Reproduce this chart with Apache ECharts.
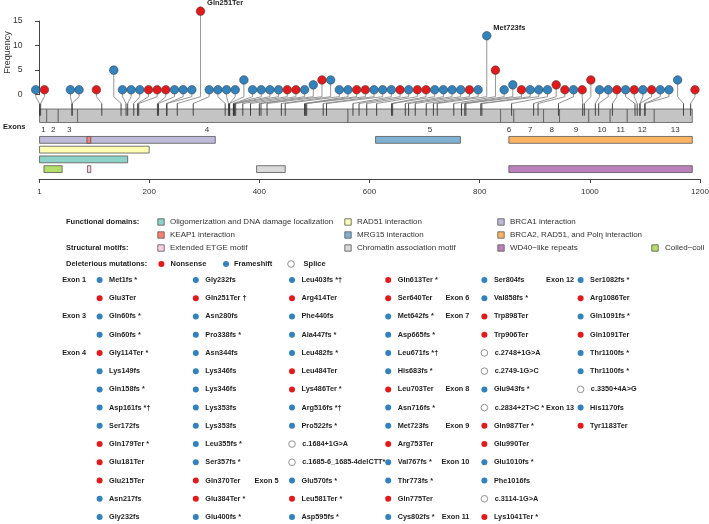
<!DOCTYPE html>
<html>
<head>
<meta charset="utf-8">
<script src="https://cdn.jsdelivr.net/npm/echarts@6.0.0/dist/echarts.min.js"></script>
<style>html,body{margin:0;padding:0;background:#ffffff;}#chart{width:709px;height:524px;}</style>
</head>
<body>
<div id="chart"></div>
<script>
// ================= DATA =================
const proteinTicks = [1, 200, 400, 600, 800, 1000, 1200];
const frequencyTicks = [0, 5, 10, 15];

const exonLabels   = ['1','2','3','4','5','6','7','8','9','10','11','12','13'];
const exonStart    = [1, 14, 35, 70, 561, 838, 862, 916, 945, 998, 1037, 1068, 1117];
const exonEnd      = [14, 35, 70, 561, 838, 862, 916, 945, 998, 1037, 1068, 1117, 1186];
const exonLabelPos = [8, 26, 55, 305, 710, 853, 892, 931, 975, 1022, 1056, 1095, 1155];

const domainNames = ['Oligomerization and DNA damage localization', 'RAD51 interaction', 'BRCA1 interaction',
  'KEAP1 interaction', 'MRG15 interaction', 'BRCA2, RAD51, and Polη interaction',
  'Extended ETGE motif', 'Chromatin association motif', 'WD40\u2212like repeats', 'Coiled\u2212coil'];
const domainStart = [1, 1, 1, 87, 611, 853, 88, 395, 853, 9];
const domainEnd   = [161, 200, 320, 94, 765, 1186, 94, 447, 1186, 42];
const domainTrack = [2, 1, 0, 0, 0, 0, 3, 3, 3, 3];

// lollipop (nonsense + frameshift variants, in order)
const lolliPos = [1,3,60,60,114,149,158,161,172,179,181,215,217,232,232,251,280,338,344,346,346,353,353,355,357,370,384,400,403,414,440,447,482,484,486,516,522,570,581,595,613,640,642,665,671,683,703,716,723,753,767,773,775,802,804,858,898,906,943,987,990,1010,1016,1041,1082,1086,1091,1091,1100,1100,1170,1183];
const lolliFreq = [1,1,1,1,1, 5,1,1,1,1, 1,1,1,1,1, 17,1,1,1,1, 3,1,1,1,1, 1,1,1,2,3, 3,1,1,1,1, 1,1,1,1,1, 1,1,1,1,1, 1,1,1,12,5, 1,2,1,1,1, 1,2,1,1,1, 3,1,1,1,1, 1,1,1,1,1, 3,1];
// slot index of each lollipop head along the spread-out head row
const lolliSlot = [0,1,4,5,7, 9,10,11,12,13,14,15,16,17,18,19,20,21,22,23,24,25,26,27,28,29,30,31,32,33,34,35,36,37,38,39,40,41,42,43,44,45,46,47,48,49,50,51,52,53,54,55,56,57,58,59,60,61,62,63,64,65,66,67,68,69,70,71,72,73,74, 76];
const annotated = ['Gln251Ter', 'Met723fs'];

// mutation table (N = nonsense, F = frameshift, S = splice)
const tableNames = [
 'Met1fs *','Glu3Ter','Gln60fs *','Gln60fs *','Gly114Ter *','Lys149fs','Gln158fs *','Asp161fs *\u2020','Ser172fs','Gln179Ter *','Glu181Ter','Glu215Ter','Asn217fs','Gly232fs',
 'Gly232fs','Gln251Ter \u2020','Asn280fs','Pro338fs *','Asn344fs','Lys346fs','Lys346fs','Lys353fs','Lys353fs','Leu355fs *','Ser357fs *','Gln370Ter','Glu384Ter *','Glu400fs *',
 'Leu403fs *\u2020','Arg414Ter','Phe440fs','Ala447fs *','Leu482fs *','Leu484Ter','Lys486Ter *','Arg516fs *\u2020','Pro522fs *','c.1684+1G>A','c.1685-6_1685-4delCTT*','Glu570fs *','Leu581Ter *','Asp595fs *',
 'Gln613Ter *','Ser640Ter','Met642fs *','Asp665fs *','Leu671fs *\u2020','His683fs *','Leu703Ter','Asn716fs *','Met723fs','Arg753Ter','Val767fs *','Thr773fs *','Gln775Ter','Cys802fs *',
 'Ser804fs','Val858fs *','Trp898Ter','Trp906Ter','c.2748+1G>A','c.2749-1G>C','Glu943fs *','c.2834+2T>C *','Gln987Ter *','Glu990Ter','Glu1010fs *','Phe1016fs','c.3114-1G>A','Lys1041Ter *',
 'Ser1082fs *','Arg1086Ter','Gln1091fs *','Gln1091Ter','Thr1100fs *','Thr1100fs *','c.3350+4A>G','His1170fs','Tyr1183Ter'];
const tableTypes = ('FNFFNFFFFNNNFF' + 'FNFFFFFFFFFNNF' + 'FNFFFNNFFSSFNF' + 'NNFFFFNFFNFFNF' + 'FFNNSSFSNNFFSN' + 'FNFNFFSFN').split('');
const tableExonIndex = [0, 2, 4, 39, 57, 58, 62, 64, 66, 69, 70, 77];
const tableExonText  = ['Exon 1','Exon 3','Exon 4','Exon 5','Exon 6','Exon 7','Exon 8','Exon 9','Exon 10','Exon 11','Exon 12','Exon 13'];
const ROWS_PER_COL = 14;

// ================= STYLE =================
const FONT = '"Liberation Sans", Arial, Helvetica, sans-serif';
const RED = '#E31A1C', BLUE = '#3182BD';
const TEXT = '#1f1f1f';
const TABLE_FONT = 7.3;
const domainColors = ['#8DD3C7','#FFFFB3','#BEBADA','#FB8072','#80B1D3','#FDB462','#FCCDE5','#D9D9D9','#BC80BD','#B3DE69'];
const typeColor = {N: RED, F: BLUE};
const exonLabelGap = [13, 13, 13, 13, 14.5, 6]; // per table column

const chart = echarts.init(document.getElementById('chart'));

const nonSplice = tableNames.map((n, i) => ({name: n.replace(/[\s*\u2020]+$/, ''), type: tableTypes[i]})).filter(d => d.type !== 'S');

const series = [];

// exon bar
series.push({
  type: 'custom', xAxisIndex: 2, yAxisIndex: 1, z: 1, silent: true,
  data: exonStart.map((s, i) => [s, exonEnd[i]]),
  renderItem: (params, api) => {
    const p0 = api.coord([api.value(0), 1]);
    const p1 = api.coord([api.value(1), 0]);
    return {type: 'rect', shape: {x: p0[0], y: p0[1], width: p1[0] - p0[0], height: p1[1] - p0[1]},
      style: {fill: '#C4C4C4', stroke: '#5a5a5a', lineWidth: 0.8}};
  }
});
// exon numbers
series.push({
  type: 'custom', xAxisIndex: 2, yAxisIndex: 1, z: 1, silent: true, clip: false,
  data: exonLabelPos.map(p => [p, 0]),
  renderItem: (params, api) => {
    const p = api.coord([api.value(0), 0]);
    return {type: 'text', x: p[0], y: p[1] + 7,
      style: {text: exonLabels[params.dataIndex], align: 'center', verticalAlign: 'middle', fontSize: 8, fontFamily: FONT, fill: '#333'}};
  }
});
// domains
series.push({
  type: 'custom', xAxisIndex: 3, yAxisIndex: 2, z: 1, silent: true,
  data: domainStart.map((s, i) => [s, domainEnd[i], domainTrack[i]]),
  renderItem: (params, api) => {
    const p0 = api.coord([api.value(0), api.value(2)]);
    const p1 = api.coord([api.value(1), api.value(2)]);
    const h = api.size([0, 1])[1] * 0.7;
    return {type: 'rect', shape: {x: p0[0], y: p0[1] - h / 2, width: p1[0] - p0[0], height: h},
      style: {fill: domainColors[params.dataIndex], stroke: '#555', lineWidth: 0.8}};
  }
});
// connectors
series.push({
  type: 'custom', xAxisIndex: 1, yAxisIndex: 0, z: 3, silent: true, clip: false,
  data: lolliPos.map((p, i) => [lolliSlot[i], lolliFreq[i], p]),
  renderItem: (params, api) => {
    const head = api.coord([api.value(0), api.value(1)]);
    const base = api.coord([api.value(0), 0]);
    const ax = chart.convertToPixel({xAxisIndex: 2}, api.value(2));
    const barTop = chart.convertToPixel({yAxisIndex: 1}, 1);
    const barMid = chart.convertToPixel({yAxisIndex: 1}, 0.5);
    const bendY = barTop - 5.5;
    return {type: 'group', children: [
      {type: 'polyline', shape: {points: [head, [head[0], base[1] + 2], [ax, bendY]]}, style: {stroke: '#8a8a8a', fill: null, lineWidth: 0.9}},
      {type: 'line', shape: {x1: ax, y1: bendY, x2: ax, y2: barMid}, style: {stroke: '#333', lineWidth: 0.9}}
    ]};
  }
});
// heads
series.push({
  type: 'scatter', xAxisIndex: 1, yAxisIndex: 0, z: 4, silent: true, clip: false,
  symbol: 'circle', symbolSize: 8.6,
  data: lolliPos.map((p, i) => {
    const d = nonSplice[i];
    const item = {value: [lolliSlot[i], lolliFreq[i]], name: d.name,
      itemStyle: {color: typeColor[d.type], borderColor: '#333', borderWidth: 0.5, opacity: 1}};
    if (annotated.includes(d.name)) {
      item.label = {show: true, formatter: '{b}', position: 'right', distance: 2, offset: [0, -8],
        fontSize: 7.5, fontWeight: 'bold', color: TEXT, fontFamily: FONT};
    }
    return item;
  })
});
// table dots + names
series.push({
  type: 'scatter', xAxisIndex: 4, yAxisIndex: 3, z: 2, silent: true, clip: false,
  symbol: 'circle',
  data: tableNames.map((n, i) => {
    const t = tableTypes[i];
    return {value: [Math.floor(i / ROWS_PER_COL), i % ROWS_PER_COL], name: n,
      symbolSize: t === 'S' ? 6.6 : 6,
      itemStyle: t === 'S' ? {color: '#fff', borderColor: '#888', borderWidth: 0.9, opacity: 1} : {color: typeColor[t], opacity: 1}};
  }),
  label: {show: true, formatter: '{b}', position: 'right', distance: 6.5, fontSize: TABLE_FONT, fontWeight: 'bold', color: TEXT, fontFamily: FONT}
});
// table exon labels
series.push({
  type: 'scatter', xAxisIndex: 4, yAxisIndex: 3, z: 2, silent: true, clip: false,
  symbolSize: 1, itemStyle: {color: 'rgba(0,0,0,0)', opacity: 1},
  data: tableExonIndex.map((idx, k) => {
    const col = Math.floor(idx / ROWS_PER_COL);
    return {value: [col, idx % ROWS_PER_COL], name: tableExonText[k], label: {distance: exonLabelGap[col]}};
  }),
  label: {show: true, formatter: '{b}', position: 'left', distance: 13, fontSize: TABLE_FONT, fontWeight: 'bold', color: TEXT, fontFamily: FONT}
});

// ---------- legend / static text ----------
const graphics = [];
function txt(x, y, text, opt) {
  return {type: 'text', x: x, y: y, silent: true, rotation: (opt && opt.rotation) || 0,
    style: Object.assign({text: text, fontFamily: FONT, fontSize: 8, fill: '#333', align: 'left', verticalAlign: 'middle'}, (opt && opt.style) || {})};
}
graphics.push(txt(8, 52.5, 'Frequency', {rotation: Math.PI / 2, style: {align: 'center', fontSize: 9}}));
graphics.push(txt(3, 127, 'Exons', {style: {fontWeight: 'bold', fontSize: 7.5, fill: TEXT}}));

const legendRowY = [222, 235, 248];
const legendSqX = [161, 348, 501, 655];
const legendTxX = [170, 357, 510, 665];
graphics.push(txt(66, legendRowY[0], 'Functional domains:', {style: {fontWeight: 'bold', fontSize: 7.5, fill: TEXT}}));
graphics.push(txt(66, legendRowY[2], 'Structural motifs:', {style: {fontWeight: 'bold', fontSize: 7.5, fill: TEXT}}));
domainNames.forEach((name, i) => {
  const col = i === 9 ? 3 : i % 3;
  const row = i === 9 ? 2 : Math.floor(i / 3);
  graphics.push({type: 'rect', silent: true, shape: {x: legendSqX[col] - 3.2, y: legendRowY[row] - 3.2, width: 6.4, height: 6.4},
    style: {fill: domainColors[i], stroke: '#555', lineWidth: 0.8}});
  graphics.push(txt(legendTxX[col], legendRowY[row], name));
});
const delY = 264;
graphics.push(txt(66, delY, 'Deleterious mutations:', {style: {fontWeight: 'bold', fontSize: 7.5, fill: TEXT}}));
graphics.push({type: 'circle', silent: true, shape: {cx: 161.4, cy: delY, r: 3}, style: {fill: RED}});
graphics.push(txt(170.5, delY, 'Nonsense', {style: {fontWeight: 'bold', fontSize: 7.5, fill: TEXT}}));
graphics.push({type: 'circle', silent: true, shape: {cx: 226, cy: delY, r: 3}, style: {fill: BLUE}});
graphics.push(txt(234, delY, 'Frameshift', {style: {fontWeight: 'bold', fontSize: 7.5, fill: TEXT}}));
graphics.push({type: 'circle', silent: true, shape: {cx: 291, cy: delY, r: 3.3}, style: {fill: '#fff', stroke: '#888', lineWidth: 0.9}});
graphics.push(txt(303.6, delY, 'Splice', {style: {fontWeight: 'bold', fontSize: 7.5, fill: TEXT}}));

const option = {
  animation: false,
  backgroundColor: '#ffffff',
  textStyle: {fontFamily: FONT},
  grid: [
    {left: 39, top: 21, width: 661, height: 73.7, outerBoundsMode: 'none'},
    {left: 39, top: 109, width: 661, height: 13.5, outerBoundsMode: 'none'},
    {left: 39, top: 135, width: 661, height: 39, outerBoundsMode: 'none'},
    {left: 99.6, top: 280, width: 481, height: 237, outerBoundsMode: 'none'}
  ],
  xAxis: [
    {gridIndex: 0, type: 'value', min: 0, max: 1200, show: false},
    {gridIndex: 0, type: 'value', min: 0.38, max: 76.58, show: false},
    {gridIndex: 1, type: 'value', min: 0, max: 1200, show: false},
    {gridIndex: 2, type: 'value', min: 0, max: 1200, position: 'bottom', offset: 5,
      axisLine: {show: true, lineStyle: {color: '#444', width: 1}},
      axisTick: {show: true, length: 4, customValues: proteinTicks, lineStyle: {color: '#444', width: 1}},
      axisLabel: {customValues: proteinTicks, formatter: v => String(v), fontSize: 8, color: '#333', margin: 9, fontFamily: FONT},
      splitLine: {show: false}},
    {gridIndex: 3, type: 'value', min: 0, max: 5, show: false}
  ],
  yAxis: [
    {gridIndex: 0, type: 'value', min: 0, max: 15, interval: 5, offset: 8,
      axisLine: {show: true, lineStyle: {color: '#444', width: 1}},
      axisTick: {show: true, length: 4, customValues: frequencyTicks, lineStyle: {color: '#444', width: 1}},
      axisLabel: {customValues: frequencyTicks, formatter: v => String(v), fontSize: 8.5, color: '#333', margin: 8.5, fontFamily: FONT},
      splitLine: {show: false}},
    {gridIndex: 1, type: 'value', min: 0, max: 1, show: false},
    {gridIndex: 2, type: 'category', data: ['0','1','2','3'], inverse: true, show: false},
    {gridIndex: 3, type: 'value', min: 0, max: 13, inverse: true, show: false}
  ],
  series: series,
  graphic: graphics
};
chart.setOption(option);
</script>
</body>
</html>
